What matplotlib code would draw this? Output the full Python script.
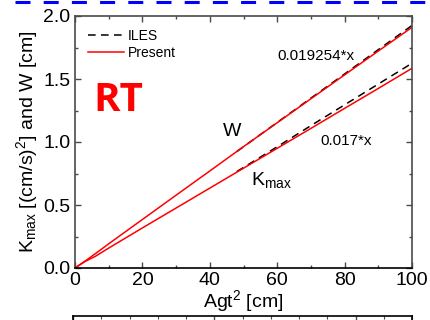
import matplotlib
matplotlib.use("Agg")
import matplotlib.pyplot as plt
from matplotlib.lines import Line2D
from matplotlib.ticker import MultipleLocator, FormatStrFormatter

plt.rcParams['font.family'] = ['Liberation Sans', 'DejaVu Sans']
plt.rcParams['mathtext.fontset'] = 'custom'
plt.rcParams['mathtext.rm'] = 'Liberation Sans'
plt.rcParams['mathtext.it'] = 'Liberation Sans'
plt.rcParams['mathtext.default'] = 'regular'

# Present model results
x_present = [0, 3, 6, 10, 20, 30, 40, 50, 60, 70, 80, 90, 100]
w_present = [0, 0.055, 0.113, 0.192, 0.385, 0.578, 0.77, 0.963,
             1.153, 1.343, 1.533, 1.722, 1.91]
k_present = [0, 0.052, 0.092, 0.158, 0.318, 0.476, 0.634, 0.792,
             0.95, 1.108, 1.267, 1.425, 1.585]

# ILES fits
x_iles = [48, 60, 70, 80, 90, 100]
w_iles = [0.924, 1.155, 1.348, 1.540, 1.733, 1.925]
k_iles = [0.765, 0.962, 1.13, 1.295, 1.46, 1.625]

spine_c = '#4a4a4a'

fig = plt.figure(figsize=(4.3, 3.2), dpi=100)
ax = fig.add_axes([75/430, 1-268/320, 337/430, 252/320])

ax.plot(x_iles, w_iles, color='black', lw=1.1, dashes=(5, 3.5), label='ILES')
ax.plot(x_present, w_present, color='red', lw=1.1, label='Present')
ax.plot(x_iles, k_iles, color='black', lw=1.1, dashes=(5, 3.5))
ax.plot(x_present, k_present, color='red', lw=1.1)

ax.set_xlim(0, 100)
ax.set_ylim(0, 2.0)
ax.xaxis.set_major_locator(MultipleLocator(20))
ax.xaxis.set_minor_locator(MultipleLocator(10))
ax.yaxis.set_major_locator(MultipleLocator(0.5))
ax.yaxis.set_minor_locator(MultipleLocator(0.25))
ax.yaxis.set_major_formatter(FormatStrFormatter('%.1f'))
ax.tick_params(which='both', direction='in', top=True, right=True,
               color=spine_c, labelsize=14)
ax.tick_params(axis='x', pad=3)
ax.tick_params(axis='y', pad=3.5)
ax.tick_params(which='major', length=4, width=1)
ax.tick_params(which='minor', length=2.5, width=1)
for s in ax.spines.values():
    s.set_color(spine_c)
    s.set_linewidth(1.2)
ax.spines['bottom'].set_color('black')

ax.set_xlabel('Agt$^2$ [cm]', fontsize=14, labelpad=-1)
ax.set_ylabel('K$_{max}$ [(cm/s)$^2$] and W [cm]', fontsize=14, labelpad=2)

ax.legend(loc='upper left', frameon=False, fontsize=10, handlelength=2.6,
          handletextpad=0.3, labelspacing=0.25, borderaxespad=0.6,
          borderpad=0.3)

ax.text(12.8, 1.33, 'RT', color='red', fontsize=29, fontweight='bold',
        ha='center', va='center', family=['Open Sans', 'DejaVu Sans'])
ax.text(46.6, 1.08, 'W', fontsize=14, ha='center', va='center')
ax.text(52.3, 0.70, 'K$_{max}$', fontsize=14, ha='left', va='center')
ax.text(71.5, 1.68, '0.019254*x', fontsize=11, ha='center', va='center')
ax.text(80.4, 1.01, '0.017*x', fontsize=11, ha='center', va='center')

# Neighbouring panel below
ax2 = fig.add_axes([73/430, 1-316/320-0.5, 339/430, 0.5])
ax2.set_xlim(0, 2.4)
ax2.set_ylim(0, 1)
ax2.xaxis.set_major_locator(MultipleLocator(1))
ax2.xaxis.set_minor_locator(MultipleLocator(0.2))
ax2.tick_params(which='both', direction='in', top=True, bottom=False,
                labeltop=False, labelbottom=False, left=False,
                labelleft=False, color=spine_c)
ax2.tick_params(which='major', length=4, width=1)
ax2.tick_params(which='minor', length=2, width=0.8)
for s in ax2.spines.values():
    s.set_color('black')
    s.set_linewidth(1.2)

# Neighbouring panel above: blue dashed border
fig.add_artist(Line2D([15/430, 1.0], [1-1.5/320, 1-1.5/320],
                      transform=fig.transFigure, color='#0000ff', lw=2.2,
                      dashes=(15/1.389/2.2, 13.2/1.389/2.2)))

fig.savefig('out.png', dpi=100)
